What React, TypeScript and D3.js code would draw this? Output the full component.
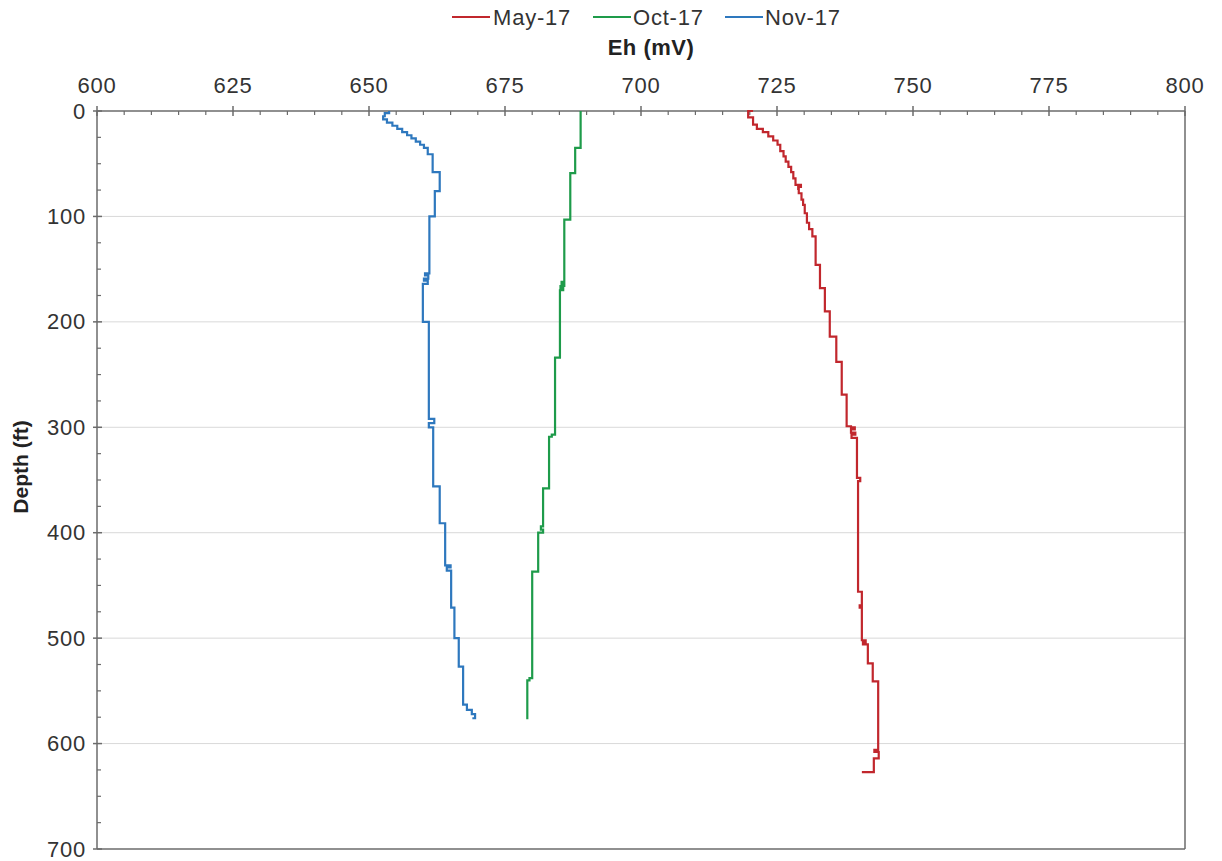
import React from "react";
import * as d3 from "d3";

// ---- data (depth in ft, Eh in mV) ----
const mayDepth = [0, 0, 6, 13, 17, 20, 24, 28, 32, 38, 43, 48, 53, 58, 64, 70, 72, 74, 78, 84, 89, 97, 106, 112, 119, 146, 168, 190, 214, 238, 269, 299, 300, 302, 305, 307, 310, 348, 351, 456, 469, 471, 502, 504, 506, 524, 541, 606, 608, 614, 627];
const mayEh = [720.6, 719.7, 720.6, 721.3, 722.4, 723.4, 724.3, 725.1, 725.6, 726.2, 726.6, 727.1, 727.6, 728.0, 728.4, 729.4, 728.9, 729.0, 729.5, 729.8, 730.1, 730.5, 730.9, 731.5, 732.1, 732.9, 733.8, 734.7, 735.9, 736.9, 737.8, 738.6, 739.3, 738.6, 739.4, 738.7, 739.7, 740.3, 739.9, 740.6, 740.2, 740.6, 741.3, 740.8, 741.7, 742.6, 743.6, 742.9, 743.7, 742.8, 740.6];

const octDepth = [0, 35, 59, 103, 162, 164, 166, 168, 170, 234, 307, 309, 358, 394, 397, 400, 437, 538, 540, 577];
const octEh = [688.9, 687.9, 687.0, 685.9, 685.4, 685.9, 685.2, 685.7, 685.1, 684.2, 683.6, 683.1, 682.0, 681.6, 682.0, 681.1, 680.0, 679.5, 679.1, 679.1];

const novDepth = [0, 2, 5, 8, 11, 14, 17, 20, 23, 26, 29, 32, 35, 41, 58, 76, 100, 154, 156, 159, 161, 164, 200, 292, 296, 300, 356, 391, 431, 433, 436, 471, 500, 527, 563, 568, 572, 576];
const novEh = [653.7, 652.9, 652.6, 653.3, 654.3, 655.2, 656.1, 657.0, 657.8, 658.6, 659.4, 660.1, 660.8, 661.7, 663.0, 662.1, 661.1, 660.3, 660.9, 660.1, 660.8, 659.9, 661.0, 662.0, 661.0, 661.8, 663.0, 664.0, 665.0, 664.3, 665.1, 665.7, 666.5, 667.3, 668.0, 668.9, 669.5, 669.0];

const seriesNames = ["May-17", "Oct-17", "Nov-17"];
const seriesColors = ["#C1272D", "#1E9B4A", "#2E78BE"];
const xTicks = [600, 625, 650, 675, 700, 725, 750, 775, 800];
const yTicks = [0, 100, 200, 300, 400, 500, 600, 700];

const W = 1222, H = 861;
const L = 97, R = 1185, T = 111, B = 849;
const FONT = "'Liberation Sans', Arial, Helvetica, sans-serif";

export default function App() {
  const x = d3.scaleLinear().domain([600, 800]).range([L, R]);
  const y = d3.scaleLinear().domain([0, 700]).range([T, B]);
  const line = d3
    .line<[number, number]>()
    .x((d) => x(d[1]))
    .y((d) => y(d[0]))
    .curve(d3.curveStepBefore);

  const series = [
    mayDepth.map((d, i) => [d, mayEh[i]] as [number, number]),
    octDepth.map((d, i) => [d, octEh[i]] as [number, number]),
    novDepth.map((d, i) => [d, novEh[i]] as [number, number]),
  ];

  const xMinor = d3.range(600, 801, 5).filter((v) => v % 25 !== 0);
  const yMinor = d3.range(0, 701, 25).filter((v) => v % 100 !== 0);
  const axisColor = "#6b6b6b";

  const legendItems = [
    { lx: 452, tx: 493 },
    { lx: 593, tx: 633 },
    { lx: 725, tx: 765 },
  ];

  return (
    <svg width={W} height={H} style={{ position: "absolute", left: 0, top: 0, background: "#fff" }} fontFamily={FONT}>
      {/* grid */}
      {yTicks.filter((v) => v > 0 && v < 700).map((v) => (
        <line key={"g" + v} x1={L} x2={R} y1={y(v)} y2={y(v)} stroke="#d9d9d9" strokeWidth={1} />
      ))}
      {/* border */}
      <line x1={R} x2={R} y1={T} y2={B} stroke={axisColor} strokeWidth={1.5} />
      <line x1={L} x2={R} y1={B} y2={B} stroke={axisColor} strokeWidth={1.5} />
      {/* top axis */}
      <line x1={L} x2={R} y1={T} y2={T} stroke={axisColor} strokeWidth={1.5} />
      {xTicks.map((v) => (
        <g key={"xt" + v}>
          <line x1={x(v)} x2={x(v)} y1={T - 5} y2={T + 5} stroke={axisColor} strokeWidth={1.5} />
          <text x={x(v)} y={93} textAnchor="middle" fontSize={22} letterSpacing={0.8} fill="#333">{v}</text>
        </g>
      ))}
      {xMinor.map((v) => (
        <line key={"xm" + v} x1={x(v)} x2={x(v)} y1={T} y2={T + 4} stroke={axisColor} strokeWidth={1.2} />
      ))}
      {/* left axis */}
      <line x1={L} x2={L} y1={T} y2={B} stroke={axisColor} strokeWidth={1.5} />
      {yTicks.map((v) => (
        <g key={"yt" + v}>
          <line x1={L - 4} x2={L + 5} y1={y(v)} y2={y(v)} stroke={axisColor} strokeWidth={1.5} />
          <text x={86} y={y(v) + 7.5} textAnchor="end" fontSize={22} letterSpacing={0.8} fill="#333">{v}</text>
        </g>
      ))}
      {yMinor.map((v) => (
        <line key={"ym" + v} x1={L} x2={L + 4} y1={y(v)} y2={y(v)} stroke={axisColor} strokeWidth={1.2} />
      ))}
      {/* series */}
      {series.map((s, i) => (
        <path key={seriesNames[i]} d={line(s) || ""} fill="none" stroke={seriesColors[i]} strokeWidth={2.2} strokeLinejoin="miter" />
      ))}
      {/* axis titles */}
      <text x={651} y={55} textAnchor="middle" fontSize={22} fontWeight="bold" letterSpacing={0.5} fill="#222">Eh (mV)</text>
      <text transform={`translate(28,${467}) rotate(-90)`} textAnchor="middle" fontSize={21} fontWeight="bold" fill="#222">Depth (ft)</text>
      {/* legend */}
      {legendItems.map((it, i) => (
        <g key={"lg" + i}>
          <line x1={it.lx} x2={it.lx + 38} y1={17} y2={17} stroke={seriesColors[i]} strokeWidth={2.2} />
          <text x={it.tx} y={25} fontSize={22} letterSpacing={0.8} fill="#333">{seriesNames[i]}</text>
        </g>
      ))}
    </svg>
  );
}
